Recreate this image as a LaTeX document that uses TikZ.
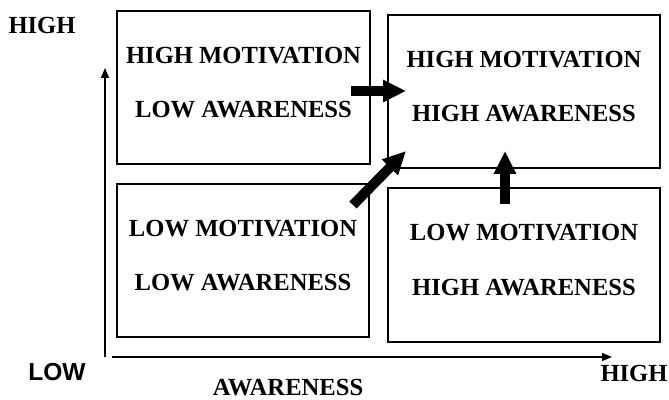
\documentclass[tikz,border=0pt]{standalone}
\usepackage{fontspec}
\setmainfont{Liberation Serif}
\setsansfont{Liberation Sans}
\usetikzlibrary{arrows.meta}

\tikzset{
	quad/.style={draw, line width=1pt, align=center, inner sep=0pt, text depth=5pt,
		font=\fontsize{12.3}{14}\selectfont\bfseries},
	lbl/.style={inner sep=1pt, font=\fontsize{12.3}{14}\selectfont\bfseries},
	bigarrow/.style={line width=5pt, -{Triangle[length=11.5pt,width=10.5pt]}},
	axis/.style={line width=0.8pt, -{Triangle[length=5pt,width=4pt]}},
}

\begin{document}
\begin{tikzpicture}[x=0.5pt, y=-0.5pt]
	\useasboundingbox (0,0) rectangle (669,400);

	% four quadrants: name/x/y/width/height/text
	\foreach \name/\x/\y/\w/\h/\txt in {
			tl/243.5/87.5/126.5/76.5/{HIGH MOTIVATION\\[13.3pt]LOW AWARENESS},
			tr/524/91.5/136/76.5/{HIGH MOTIVATION\\[13.3pt]HIGH AWARENESS},
			bl/243/260.5/126/76.5/{LOW MOTIVATION\\[13.3pt]LOW AWARENESS},
			br/524/265/136/77/{LOW MOTIVATION\\[13.3pt]HIGH AWARENESS}} {
		\node[quad, minimum width=\w pt, minimum height=\h pt] (\name) at (\x,\y) {\txt};
	}

	% moves towards high/high
	\draw[bigarrow] ([shift={(-20,3.5)}]tl.east) -- ([shift={(19,-0.5)}]tr.west);
	\draw[bigarrow] ([shift={(-17,22)}]bl.north east) -- ([shift={(19,-18)}]tr.south west);
	\draw[bigarrow] ([shift={(-19,17)}]br.north) -- ([shift={(-19,-18)}]tr.south);

	% axes
	\coordinate (yfoot) at (105,357);
	\coordinate (ytop) at (105,68);
	\coordinate (xfoot) at (112,357);
	\coordinate (xend) at (612,357);
	\draw[axis] (yfoot) -- (ytop);
	\draw[axis] (xfoot) -- (xend);

	% axis labels
	\node[lbl] (yhigh) at (42,25) {HIGH};
	\node[lbl, font=\fontsize{12.3}{14}\selectfont\sffamily\bfseries] (xlow) at (57,372) {LOW};
	\node[lbl] (xhigh) at (634,373) {HIGH};
	\node[lbl] (xname) at (288,388) {AWARENESS};
\end{tikzpicture}
\end{document}
